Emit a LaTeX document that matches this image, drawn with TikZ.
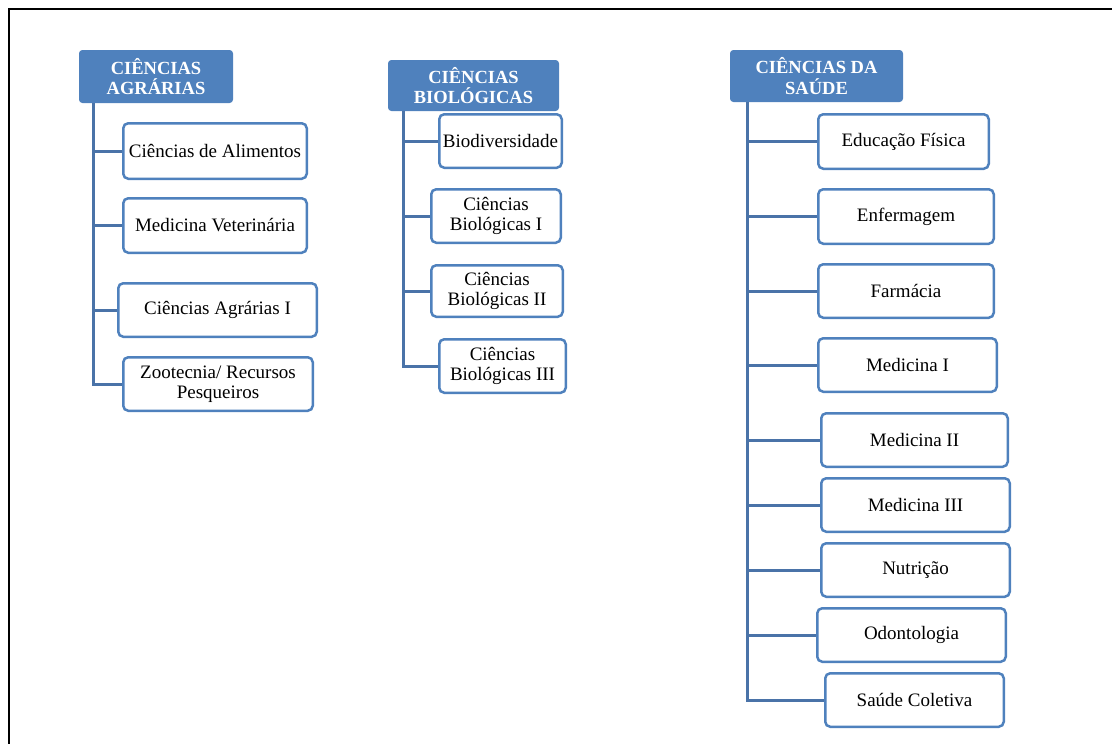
\documentclass[tikz,border=0pt]{standalone}
\usepackage{fontspec}
\setmainfont{Liberation Serif}
\definecolor{boxblue}{HTML}{4F81BD}
\definecolor{linkblue}{HTML}{4A73A8}
\begin{document}
\begin{tikzpicture}[x=1pt,y=-1pt,
  head/.style={draw=boxblue, fill=boxblue, line width=1pt, rounded corners=3pt,
    text=white, font=\fontsize{18.5}{20.5}\selectfont\bfseries, align=center, inner sep=0pt},
  leaf/.style={draw=boxblue, fill=white, line width=2.5pt, rounded corners=5pt,
    font=\fontsize{19}{20}\selectfont, align=center, inner sep=0pt},
  link/.style={draw=linkblue, line width=3pt}]
\useasboundingbox (0,0) rectangle (1112,744);
% page frame
\draw[line width=2pt] (9,744) -- (9,9) -- (1112,9);

% ---- Ciências Agrárias ----
\node[head, minimum width=153pt, minimum height=52pt] (hA) at (156,76.5) {CIÊNCIAS\\AGRÁRIAS};
\coordinate (tA) at (93,103);
\node[leaf, minimum width=183.5pt, minimum height=55.5pt] (a1) at (215,151) {Ciências de Alimentos};
\node[leaf, minimum width=183.5pt, minimum height=54.5pt] (a2) at (215,225.5) {Medicina Veterinária};
\node[leaf, minimum width=198.5pt, minimum height=53.5pt] (a3) at (217.5,310) {Ciências Agrárias I};
\node[leaf, minimum width=189.5pt, minimum height=53.5pt] (a4) at (218,384) {Zootecnia/ Recursos\\Pesqueiros};
\draw[link] (tA) |- (a4.west);
\foreach \n in {a1,a2,a3} \draw[link] (tA |- \n.west) -- (\n.west);

% ---- Ciências Biológicas ----
\node[head, minimum width=170pt, minimum height=50pt] (hB) at (473.5,85.5) {CIÊNCIAS\\BIOLÓGICAS};
\coordinate (tB) at (403,111);
\node[leaf, minimum width=122.5pt, minimum height=53.5pt] (b1) at (500.5,141) {Biodiversidade};
\node[leaf, minimum width=129.5pt, minimum height=53.5pt] (b2) at (496,216) {Ciências\\Biológicas I};
\node[leaf, minimum width=131.5pt, minimum height=51.5pt] (b3) at (497,291) {Ciências\\Biológicas II};
\node[leaf, minimum width=126.5pt, minimum height=53.5pt] (b4) at (502.5,366) {Ciências\\Biológicas III};
\draw[link] (tB) |- (b4.west);
\foreach \n in {b1,b2,b3} \draw[link] (tB |- \n.west) -- (\n.west);

% ---- Ciências da Saúde ----
\node[head, minimum width=172pt, minimum height=51pt] (hS) at (816.5,76) {CIÊNCIAS DA\\SAÚDE};
\coordinate (tS) at (747,102);
\node[leaf, minimum width=170.5pt, minimum height=54.5pt] (s1) at (903.5,141.5) {Educação Física};
\node[leaf, minimum width=175.5pt, minimum height=54.5pt] (s2) at (906,216.5) {Enfermagem};
\node[leaf, minimum width=175.5pt, minimum height=53.5pt] (s3) at (906,291) {Farmácia};
\node[leaf, minimum width=178.5pt, minimum height=53.5pt] (s4) at (907.5,365) {Medicina I};
\node[leaf, minimum width=186.5pt, minimum height=53.5pt] (s5) at (914.5,440) {Medicina II};
\node[leaf, minimum width=188.5pt, minimum height=53.5pt] (s6) at (915.5,505) {Medicina III};
\node[leaf, minimum width=188.5pt, minimum height=53.5pt] (s7) at (915.5,570) {Nutrição};
\node[leaf, minimum width=188.5pt, minimum height=53.5pt] (s8) at (911.5,635) {Odontologia};
\node[leaf, minimum width=178.5pt, minimum height=53.5pt] (s9) at (914.5,700) {Saúde Coletiva};
\draw[link] (tS) |- (s9.west);
\foreach \n in {s1,s2,s3,s4,s5,s6,s7,s8} \draw[link] (tS |- \n.west) -- (\n.west);
\end{tikzpicture}
\end{document}
